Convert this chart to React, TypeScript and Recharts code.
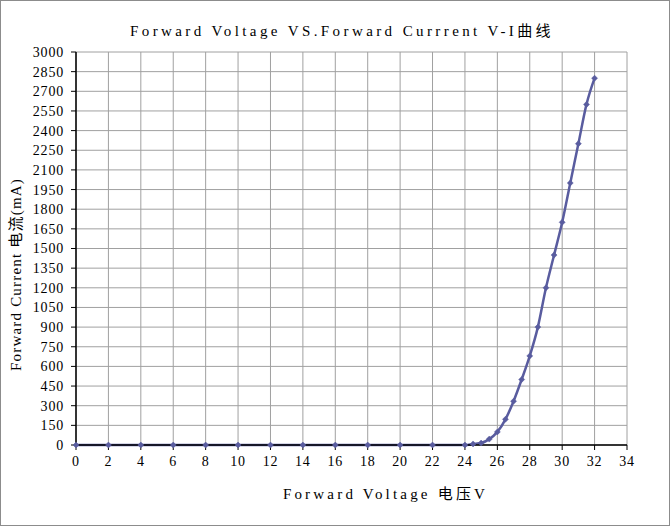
import { LineChart, Line, XAxis, YAxis, CartesianGrid } from 'recharts'

// forward voltage (V) vs forward current (mA)
const voltage = [0, 2, 4, 6, 8, 10, 12, 14, 16, 18, 20, 22, 24, 24.5, 25, 25.5, 26, 26.5, 27, 27.5, 28, 28.5, 29, 29.5, 30, 30.5, 31, 31.5, 32]
const current = [0, 0, 0, 0, 0, 0, 0, 0, 0, 0, 0, 0, 0, 8, 15, 45, 100, 196, 334, 500, 680, 900, 1200, 1450, 1700, 2000, 2300, 2600, 2800]

const xTicks = [0, 2, 4, 6, 8, 10, 12, 14, 16, 18, 20, 22, 24, 26, 28, 30, 32, 34]
const yTicks = [0, 150, 300, 450, 600, 750, 900, 1050, 1200, 1350, 1500, 1650, 1800, 1950, 2100, 2250, 2400, 2550, 2700, 2850, 3000]

const FONT = '"Liberation Serif", "Noto Sans CJK SC", serif'
const LINE_COLOR = '#595c9f'

function DiamondDot(props: any) {
  const { cx, cy } = props
  if (cx == null || cy == null) return null
  return (
    <path
      d={`M${cx},${cy - 3}L${cx + 3},${cy}L${cx},${cy + 3}L${cx - 3},${cy}Z`}
      fill={LINE_COLOR}
      stroke={LINE_COLOR}
      strokeWidth={0.5}
    />
  )
}

export default function App() {
  const data = voltage.map((v, i) => ({ v, i: current[i] }))

  return (
    <div
      style={{
        position: 'absolute',
        left: 0,
        top: 0,
        width: 668,
        height: 524,
        border: '1px solid #8c8c8c',
        background: '#fff',
        fontFamily: FONT,
      }}
    >
      <div
        style={{
          position: 'absolute',
          top: 18,
          left: 0,
          width: 682,
          textAlign: 'center',
          fontSize: 15,
          letterSpacing: 3.4,
          color: '#000',
        }}
      >
        Forward Voltage VS.Forward Currrent V-I曲线
      </div>
      <LineChart width={668} height={524} data={data} margin={{ top: 51, right: 42, left: 0, bottom: 0 }}>
        <CartesianGrid stroke="#a0a0a0" strokeWidth={1} />
        <XAxis
          dataKey="v"
          type="number"
          domain={[0, 34]}
          ticks={xTicks}
          interval={0}
          height={80}
          axisLine={{ stroke: '#000', strokeWidth: 1.5 }}
          tickLine={{ stroke: '#000' }}
          tickSize={5}
          tickMargin={6}
          tick={{ fontSize: 14, fill: '#000', fontFamily: FONT, letterSpacing: 0.8 }}
          label={{
            value: 'Forward Voltage 电压V',
            position: 'insideBottom',
            offset: 26,
            dx: 34,
            style: { fontSize: 15, fill: '#000', fontFamily: FONT, letterSpacing: 3.2 },
          }}
        />
        <YAxis
          type="number"
          domain={[0, 3000]}
          ticks={yTicks}
          interval={0}
          width={75}
          axisLine={{ stroke: '#000', strokeWidth: 1.5 }}
          tickLine={{ stroke: '#000' }}
          tickSize={5}
          tickMargin={7}
          tick={{ fontSize: 14, fill: '#000', fontFamily: FONT, letterSpacing: 0.8 }}
          label={{
            value: 'Forward Current 电流(mA)',
            angle: -90,
            position: 'insideLeft',
            offset: 15,
            dy: 26,
            style: { fontSize: 15, fill: '#000', fontFamily: FONT, textAnchor: 'middle', letterSpacing: 1.2 },
          }}
        />
        <Line
          type="monotone"
          dataKey="i"
          stroke={LINE_COLOR}
          strokeWidth={2.5}
          dot={<DiamondDot />}
          activeDot={false}
          isAnimationActive={false}
        />
      </LineChart>
    </div>
  )
}
